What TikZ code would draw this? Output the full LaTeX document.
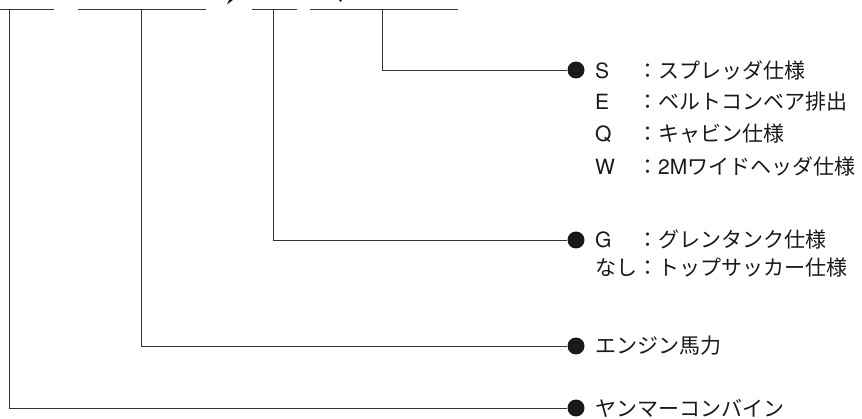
\documentclass[tikz,border=0pt]{standalone}
\usepackage{fontspec}
\setmainfont{Noto Sans CJK JP}
\newfontfamily\latinf{TeX Gyre Heros}
\begin{document}
\begin{tikzpicture}[x=1pt,y=-1pt,
  conn/.style={draw=black!80,line width=0.9pt},
  dotnode/.style={circle,fill=black!90,inner sep=0pt,minimum width=17pt,minimum height=17pt},
  lbl/.style={anchor=west,inner sep=0pt,font=\fontsize{21}{25}\selectfont,text=black!90}]
\useasboundingbox (0,0) rectangle (862,419);
% top underline segments
\coordinate (a1) at (0,9); \coordinate (a2) at (54,9);
\coordinate (b1) at (78,9); \coordinate (b2) at (206,9);
\coordinate (c1) at (252,9); \coordinate (c2) at (297,9);
\coordinate (e1) at (310,9); \coordinate (e2) at (458,9);
\draw[conn] (a1) -- (a2);
\draw[conn] (b1) -- (b2);
\draw[conn] (c1) -- (c2);
\draw[conn] (e1) -- (e2);
% clipped fragments at top
\fill[black!90] (227,4.5) -- (229,0) -- (233,0) -- cycle;
\fill[black!90] (339,0) -- (342,0) -- (340.5,2) -- cycle;
% branch top points
\coordinate (t1) at (9,9);
\coordinate (t2) at (141,9);
\coordinate (t3) at (273,9);
\coordinate (t4) at (382,9);
% dots
\node[dotnode] (d4) at (576,70) {};
\node[dotnode] (d3) at (576,240) {};
\node[dotnode] (d2) at (576,346) {};
\node[dotnode] (d1) at (576,408) {};
\draw[conn] (t4) |- (d4.west);
\draw[conn] (t3) |- (d3.west);
\draw[conn] (t2) |- (d2.west);
\draw[conn] (t1) |- (d1.west);
% labels
\node[lbl] (s) at (595,70) {\makebox[42pt][l]{\latinf S}：スプレッダ仕様};
\node[lbl] (e) at (595,102) {\makebox[42pt][l]{\latinf E}：ベルトコンベア排出};
\node[lbl] (q) at (595,134) {\makebox[42pt][l]{\latinf Q}：キャビン仕様};
\node[lbl] (w) at (595,166) {\makebox[42pt][l]{\latinf W}：{\latinf 2M}ワイドヘッダ仕様};
\node[lbl] (g) at (595,240) {\makebox[42pt][l]{\latinf G}：グレンタンク仕様};
\node[lbl] (n) at (595,268) {\makebox[42pt][l]{なし}：トップサッカー仕様};
\node[lbl] (hp) at (595,346) {エンジン馬力};
\node[lbl] (ym) at (595,408) {ヤンマーコンバイン};
\end{tikzpicture}
\end{document}
